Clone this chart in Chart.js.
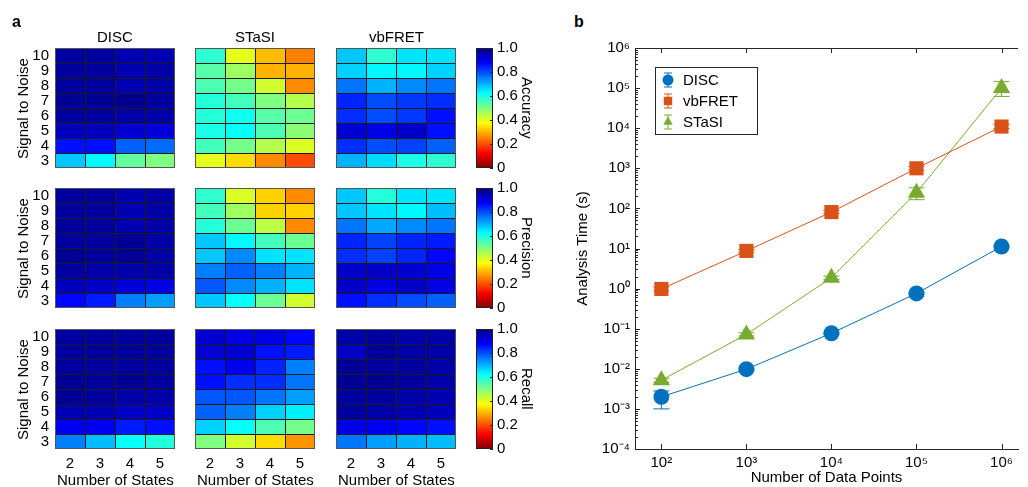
<!DOCTYPE html>
<html>
<head>
<meta charset="utf-8">
<script src="https://cdn.jsdelivr.net/npm/chart.js@4.4.1/dist/chart.umd.min.js"></script>
<style>
body { margin: 0; background: #fff; }
#fig { position: relative; width: 1028px; height: 487px; overflow: hidden; font-family: 'Liberation Sans', Arial, sans-serif; color: #000; }
#fig canvas { position: absolute; }
.lbl { position: absolute; font-size: 15px; line-height: 17px; white-space: nowrap; transform-origin: 0 0; }
.panel { font-weight: bold; font-size: 16px; }
</style>
</head>
<body>
<div id="fig"></div>
<script>
// Подписи осей тепловых карт
const snrLabels = ['10', '9', '8', '7', '6', '5', '4', '3'];
const stateLabels = ['2', '3', '4', '5'];
const methodNames = ['DISC', 'STaSI', 'vbFRET'];
const metricNames = ['Accuracy', 'Precision', 'Recall'];
const colorbarTicks = [0, 0.2, 0.4, 0.6, 0.8, 1.0];

// Строки: SNR 10 (сверху) ... 3 (снизу), столбцы: 2..5 состояний
const discAccuracy = [
    [0.97, 0.97, 0.95, 0.95],
    [0.97, 0.97, 0.95, 0.96],
    [0.97, 0.97, 0.95, 0.96],
    [0.98, 0.98, 0.99, 0.97],
    [0.97, 0.97, 0.96, 0.96],
    [0.94, 0.94, 0.92, 0.91],
    [0.86, 0.86, 0.78, 0.77],
    [0.68, 0.63, 0.53, 0.50]
];
const stasiAccuracy = [
    [0.58, 0.40, 0.31, 0.25],
    [0.54, 0.47, 0.30, 0.30],
    [0.55, 0.51, 0.42, 0.26],
    [0.59, 0.56, 0.50, 0.45],
    [0.59, 0.61, 0.54, 0.52],
    [0.60, 0.62, 0.55, 0.49],
    [0.56, 0.51, 0.45, 0.41],
    [0.40, 0.34, 0.26, 0.20]
];
const vbfretAccuracy = [
    [0.68, 0.58, 0.65, 0.65],
    [0.67, 0.63, 0.63, 0.67],
    [0.76, 0.70, 0.74, 0.76],
    [0.84, 0.80, 0.82, 0.83],
    [0.83, 0.80, 0.82, 0.86],
    [0.92, 0.90, 0.93, 0.86],
    [0.83, 0.80, 0.81, 0.78],
    [0.70, 0.66, 0.60, 0.58]
];
const discPrecision = [
    [0.97, 0.97, 0.95, 0.96],
    [0.97, 0.97, 0.95, 0.96],
    [0.97, 0.97, 0.95, 0.96],
    [0.97, 0.97, 0.98, 0.96],
    [0.98, 0.97, 0.98, 0.96],
    [0.97, 0.96, 0.96, 0.96],
    [0.94, 0.93, 0.91, 0.90],
    [0.87, 0.85, 0.75, 0.72]
];
const stasiPrecision = [
    [0.58, 0.41, 0.33, 0.26],
    [0.56, 0.47, 0.33, 0.33],
    [0.59, 0.52, 0.44, 0.26],
    [0.68, 0.63, 0.56, 0.52],
    [0.68, 0.74, 0.65, 0.65],
    [0.75, 0.78, 0.75, 0.70],
    [0.79, 0.74, 0.70, 0.65],
    [0.68, 0.62, 0.52, 0.42]
];
const vbfretPrecision = [
    [0.68, 0.59, 0.65, 0.65],
    [0.68, 0.65, 0.63, 0.69],
    [0.76, 0.71, 0.74, 0.76],
    [0.84, 0.81, 0.84, 0.85],
    [0.83, 0.81, 0.84, 0.87],
    [0.93, 0.93, 0.92, 0.90],
    [0.93, 0.90, 0.93, 0.90],
    [0.86, 0.83, 0.80, 0.78]
];
const discRecall = [
    [0.97, 0.97, 0.97, 0.97],
    [0.97, 0.97, 0.97, 0.97],
    [0.97, 0.97, 0.97, 0.97],
    [0.98, 0.97, 0.98, 0.97],
    [0.98, 0.97, 0.96, 0.96],
    [0.95, 0.95, 0.93, 0.93],
    [0.89, 0.89, 0.85, 0.86],
    [0.75, 0.69, 0.62, 0.59]
];
const stasiRecall = [
    [0.92, 0.90, 0.90, 0.87],
    [0.92, 0.92, 0.86, 0.85],
    [0.86, 0.89, 0.84, 0.75],
    [0.86, 0.83, 0.83, 0.76],
    [0.79, 0.79, 0.76, 0.72],
    [0.78, 0.75, 0.67, 0.64],
    [0.67, 0.62, 0.55, 0.51],
    [0.50, 0.42, 0.34, 0.27]
];
const vbfretRecall = [
    [0.96, 0.97, 0.96, 0.96],
    [0.93, 0.97, 0.96, 0.96],
    [0.98, 0.97, 0.97, 0.96],
    [0.98, 0.98, 0.97, 0.96],
    [0.97, 0.97, 0.96, 0.95],
    [0.97, 0.96, 0.95, 0.94],
    [0.90, 0.89, 0.87, 0.86],
    [0.76, 0.72, 0.70, 0.69]
];

// Время анализа (панель b)
const dataPoints = [1e2, 1e3, 1e4, 1e5, 1e6];
const discTime = [0.002, 0.0098, 0.077, 0.76, 11.2];
const discLow = [0.001, 0.0092, 0.072, 0.72, 10.4];
const discHigh = [0.0028, 0.0105, 0.082, 0.80, 12.0];
const vbfretTime = [0.98, 8.7, 81, 1000, 11000];
const vbfretLow = [0.88, 8.0, 74, 900, 9800];
const vbfretHigh = [1.10, 9.5, 88, 1120, 12500];
const stasiTime = [0.0052, 0.072, 1.86, 245, 100000];
const stasiLow = [0.0046, 0.066, 1.70, 165, 62000];
const stasiHigh = [0.0058, 0.079, 2.05, 325, 145000];
const timeTicks = [1e-4, 1e-3, 1e-2, 1e-1, 1e0, 1e1, 1e2, 1e3, 1e4, 1e5, 1e6];
const pointTicks = [1e2, 1e3, 1e4, 1e5, 1e6];

document.addEventListener('DOMContentLoaded', function() {
    const fig = document.getElementById('fig');
    const FONT = "'Liberation Sans', Arial, sans-serif";
    Chart.defaults.font.family = FONT;
    Chart.defaults.font.size = 15;
    Chart.defaults.color = '#000';

    const heatTables = {
        Accuracy: [discAccuracy, stasiAccuracy, vbfretAccuracy],
        Precision: [discPrecision, stasiPrecision, vbfretPrecision],
        Recall: [discRecall, stasiRecall, vbfretRecall]
    };

    // Положение панелей на рисунке (сторона кратна 8 и 4 - чёткие линии)
    const colX = [55, 195, 336];
    const rowY = [48, 188, 329];
    const cellSize = 120;
    const barX = 476, barW = 17;

    // Обратная палитра jet: 1 - тёмно-синий, 0 - тёмно-красный
    function jetRev(v) {
        const t = 1 - v;
        const clamp = x => Math.max(0, Math.min(1, x));
        const r = clamp(Math.min(4 * t - 1.5, -4 * t + 4.5));
        const g = clamp(Math.min(4 * t - 0.5, -4 * t + 3.5));
        const b = clamp(Math.min(4 * t + 0.5, -4 * t + 2.5));
        return `rgb(${Math.round(r * 255)}, ${Math.round(g * 255)}, ${Math.round(b * 255)})`;
    }

    // Текстовая подпись с центром в (x, y); rot = -90 / 0 / 90
    function addLabel(text, x, y, rot, cls) {
        const el = document.createElement('div');
        el.className = 'lbl' + (cls ? ' ' + cls : '');
        el.textContent = text;
        fig.appendChild(el);
        const w = el.offsetWidth, h = el.offsetHeight;
        if (rot === -90) {
            el.style.left = Math.round(x - h / 2) + 'px';
            el.style.top = Math.round(y + w / 2) + 'px';
            el.style.transform = 'rotate(-90deg)';
        } else if (rot === 90) {
            el.style.left = Math.round(x + h / 2) + 'px';
            el.style.top = Math.round(y - w / 2) + 'px';
            el.style.transform = 'rotate(90deg)';
        } else {
            el.style.left = Math.round(x - w / 2) + 'px';
            el.style.top = Math.round(y - h / 2) + 'px';
        }
    }

    function addCanvas(left, top, w, h) {
        const cv = document.createElement('canvas');
        cv.width = w;
        cv.height = h;
        cv.style.left = left + 'px';
        cv.style.top = top + 'px';
        cv.style.width = w + 'px';
        cv.style.height = h + 'px';
        fig.appendChild(cv);
        return cv;
    }

    // Без запаса под крайние подписи
    function noPad(s) {
        s.paddingTop = 0;
        s.paddingBottom = 0;
        s.paddingLeft = 0;
        s.paddingRight = 0;
    }

    // Рамка вокруг области графика
    const framePlugin = {
        id: 'frame',
        afterDatasetsDraw(chart, args, opts) {
            const a = chart.chartArea, c = chart.ctx;
            c.save();
            c.strokeStyle = opts.color || '#444';
            c.lineWidth = 1;
            c.strokeRect(a.left + 0.5, a.top + 0.5, a.width - 1, a.height - 1);
            if (opts.ticks) {
                const ys = chart.scales.y;
                c.strokeStyle = '#222';
                c.beginPath();
                ys.ticks.forEach(t => {
                    const py = Math.round(ys.getPixelForValue(t.value)) + 0.5;
                    c.moveTo(a.right - 3, py);
                    c.lineTo(a.right, py);
                });
                c.stroke();
            }
            c.restore();
        }
    };

    // Тепловая карта: столбчатая диаграмма с накоплением, по ячейке на SNR
    function makeHeat(table, col, row) {
        const padTop = 8;
        const cv = addCanvas(colX[col] - 30, rowY[row] - padTop, 30 + cellSize + 2, padTop + cellSize + 24);
        const rows = table.slice().reverse();
        const datasets = rows.map((vals, i) => ({
            label: 'SNR ' + snrLabels[snrLabels.length - 1 - i],
            data: vals.map(() => 1),
            backgroundColor: vals.map(jetRev),
            borderColor: '#1a1a1a',
            borderWidth: { top: 1, left: 1, right: 0, bottom: 0 },
            borderSkipped: false,
            inflateAmount: 0,
            barPercentage: 1,
            categoryPercentage: 1
        }));
        new Chart(cv, {
            type: 'bar',
            data: { labels: stateLabels, datasets: datasets },
            options: {
                responsive: false,
                animation: false,
                events: [],
                layout: { padding: { top: padTop, right: 2, bottom: 0, left: 0 } },
                plugins: { legend: { display: false }, tooltip: { enabled: false }, frame: { color: '#555' } },
                scales: {
                    x: {
                        stacked: true,
                        grid: { display: false, drawTicks: false },
                        border: { display: false },
                        ticks: { display: row === 2, padding: 6, maxRotation: 0 },
                        afterFit: s => { s.height = 24; noPad(s); }
                    },
                    y: {
                        stacked: true,
                        min: 0,
                        max: snrLabels.length,
                        grid: { display: false, drawTicks: false },
                        border: { display: false },
                        afterBuildTicks: s => { s.ticks = snrLabels.map((_, i) => ({ value: i + 0.5 })); },
                        ticks: {
                            display: col === 0,
                            autoSkip: false,
                            padding: 6,
                            callback: v => snrLabels[snrLabels.length - 1 - Math.floor(v)]
                        },
                        afterFit: s => { s.width = 30; noPad(s); }
                    }
                }
            },
            plugins: [framePlugin]
        });
    }

    // Цветовая шкала
    function makeColorbar(row) {
        const pad = 10;
        const cv = addCanvas(barX, rowY[row] - pad, barW + 32, cellSize + 2 * pad);
        new Chart(cv, {
            type: 'bar',
            data: {
                labels: [''],
                datasets: [{
                    data: [[colorbarTicks[0], colorbarTicks[colorbarTicks.length - 1]]],
                    barPercentage: 1,
                    categoryPercentage: 1,
                    backgroundColor: ctx => {
                        const a = ctx.chart.chartArea;
                        if (!a) return null;
                        const g = ctx.chart.ctx.createLinearGradient(0, a.bottom, 0, a.top);
                        [0, 0.125, 0.375, 0.625, 0.875, 1].forEach(v => g.addColorStop(v, jetRev(v)));
                        return g;
                    }
                }]
            },
            options: {
                responsive: false,
                animation: false,
                events: [],
                layout: { padding: { top: pad, right: 0, bottom: pad, left: 0 } },
                plugins: { legend: { display: false }, tooltip: { enabled: false }, frame: { color: '#222', ticks: true } },
                scales: {
                    x: { display: false },
                    y: {
                        position: 'right',
                        min: 0,
                        max: 1,
                        grid: { display: false, drawTicks: false },
                        border: { display: false },
                        afterBuildTicks: s => { s.ticks = colorbarTicks.map(v => ({ value: v })); },
                        ticks: {
                            padding: 4,
                            autoSkip: false,
                            callback: v => v === 0 ? '0' : v.toFixed(1)
                        },
                        afterFit: s => { s.width = 32; noPad(s); }
                    }
                }
            },
            plugins: [framePlugin]
        });
    }

    metricNames.forEach((metric, row) => {
        heatTables[metric].forEach((table, col) => makeHeat(table, col, row));
        makeColorbar(row);
        const cy = rowY[row] + cellSize / 2;
        addLabel('Signal to Noise', 22, cy, -90);
        addLabel(metric, 527, cy, 90);
    });
    methodNames.forEach((name, col) => {
        const cx = colX[col] + cellSize / 2;
        addLabel(name, cx, 36, 0);
        addLabel('Number of States', cx, 479, 0);
    });
    addLabel('a', 16, 21, 0, 'panel');
    addLabel('b', 579, 21, 0, 'panel');

    // Панель b: время анализа в логарифмическом масштабе
    const supDigits = { '-': '⁻', '0': '⁰', '1': '¹', '2': '²', '3': '³', '4': '⁴', '5': '⁵', '6': '⁶' };
    function powLabel(v) {
        const e = Math.round(Math.log10(v));
        return '10' + String(e).split('').map(ch => supDigits[ch]).join('');
    }

    function drawMarker(c, style, x, y, r) {
        c.beginPath();
        if (style === 'circle') {
            c.arc(x, y, r, 0, Math.PI * 2);
        } else if (style === 'rect') {
            const s = r * Math.SQRT1_2;
            c.rect(x - s, y - s, 2 * s, 2 * s);
        } else {
            c.moveTo(x, y - r);
            c.lineTo(x + r * Math.sin(Math.PI * 2 / 3), y + r / 2);
            c.lineTo(x - r * Math.sin(Math.PI * 2 / 3), y + r / 2);
            c.closePath();
        }
        c.fill();
    }

    // Планки погрешностей
    const errorBarPlugin = {
        id: 'errorBars',
        beforeDatasetsDraw(chart) {
            const c = chart.ctx, xs = chart.scales.x, ys = chart.scales.y;
            chart.data.datasets.forEach(ds => {
                c.save();
                c.strokeStyle = ds.borderColor;
                c.lineWidth = 1;
                c.beginPath();
                ds.data.forEach((p, j) => {
                    const px = xs.getPixelForValue(p.x);
                    const lo = ys.getPixelForValue(ds.errLow[j]);
                    const hi = ys.getPixelForValue(ds.errHigh[j]);
                    c.moveTo(px, lo); c.lineTo(px, hi);
                    c.moveTo(px - 8, lo); c.lineTo(px + 8, lo);
                    c.moveTo(px - 8, hi); c.lineTo(px + 8, hi);
                });
                c.stroke();
                c.restore();
            });
        }
    };

    // Засечки внутрь, верхняя граница и легенда в рамке
    const axesPlugin = {
        id: 'matlabAxes',
        afterDraw(chart) {
            const a = chart.chartArea, c = chart.ctx, xs = chart.scales.x, ys = chart.scales.y;
            c.save();
            c.strokeStyle = '#262626';
            c.lineWidth = 1;
            c.beginPath();
            c.moveTo(a.left, a.top + 0.5);
            c.lineTo(a.right, a.top + 0.5);
            xs.ticks.forEach(t => {
                const px = Math.round(xs.getPixelForValue(t.value)) + 0.5;
                c.moveTo(px, a.bottom); c.lineTo(px, a.bottom - 5);
                c.moveTo(px, a.top); c.lineTo(px, a.top + 5);
            });
            for (let e = -4; e <= 5; e++) {
                for (let m = 1; m <= 9; m++) {
                    const py = Math.round(ys.getPixelForValue(m * Math.pow(10, e))) + 0.5;
                    c.moveTo(a.left, py);
                    c.lineTo(a.left + (m === 1 ? 5 : 3), py);
                }
            }
            c.stroke();

            const x0 = Math.round(a.left) + 20, y0 = Math.round(a.top) + 19, w = 102, h = 67;
            c.fillStyle = '#fff';
            c.fillRect(x0, y0, w, h);
            c.strokeRect(x0 + 0.5, y0 + 0.5, w, h);
            chart.data.datasets.forEach((ds, i) => {
                const cx = x0 + 13, cy = y0 + 13 + i * 21;
                c.strokeStyle = ds.borderColor;
                c.beginPath();
                c.moveTo(cx, cy - 7); c.lineTo(cx, cy + 7);
                c.moveTo(cx - 4, cy - 7); c.lineTo(cx + 4, cy - 7);
                c.moveTo(cx - 4, cy + 7); c.lineTo(cx + 4, cy + 7);
                c.stroke();
                c.fillStyle = ds.backgroundColor;
                drawMarker(c, ds.pointStyle, cx, cy, ds.pointStyle === 'rect' ? 6 : 5.5);
                c.fillStyle = '#000';
                c.font = '15px ' + FONT;
                c.textBaseline = 'middle';
                c.fillText(ds.label, x0 + 28, cy + 1);
            });
            c.restore();
        }
    };

    function series(label, values, low, high, color, style, radius) {
        return {
            label: label,
            data: dataPoints.map((x, i) => ({ x: x, y: values[i] })),
            errLow: low,
            errHigh: high,
            borderColor: color,
            backgroundColor: color,
            borderWidth: 1,
            pointStyle: style,
            pointRadius: radius,
            pointBorderWidth: 0,
            fill: false,
            tension: 0
        };
    }

    const timeCanvas = addCanvas(560, 30, 468, 457);
    new Chart(timeCanvas, {
        type: 'line',
        data: {
            datasets: [
                series('DISC', discTime, discLow, discHigh, '#0072BD', 'circle', 8),
                series('vbFRET', vbfretTime, vbfretLow, vbfretHigh, '#D95319', 'rect', 10),
                series('STaSI', stasiTime, stasiLow, stasiHigh, '#77AC30', 'triangle', 10)
            ]
        },
        options: {
            responsive: false,
            animation: false,
            events: [],
            layout: { padding: { top: 18, right: 0, bottom: 0, left: 0 } },
            plugins: { legend: { display: false }, tooltip: { enabled: false } },
            scales: {
                x: {
                    type: 'logarithmic',
                    min: Math.pow(10, 1.69),
                    max: Math.pow(10, 6.194),
                    grid: { display: false, drawTicks: false },
                    border: { display: true, color: '#262626', width: 1 },
                    afterBuildTicks: s => { s.ticks = pointTicks.map(v => ({ value: v })); },
                    ticks: { autoSkip: false, maxRotation: 0, padding: 5, callback: v => powLabel(v) },
                    title: { display: true, text: 'Number of Data Points', padding: { top: 0, bottom: 0 } },
                    afterFit: s => { s.height = 38; noPad(s); }
                },
                y: {
                    type: 'logarithmic',
                    min: timeTicks[0],
                    max: timeTicks[timeTicks.length - 1],
                    grid: { display: false, drawTicks: false },
                    border: { display: true, color: '#262626', width: 1 },
                    afterBuildTicks: s => { s.ticks = timeTicks.map(v => ({ value: v })); },
                    ticks: { autoSkip: false, padding: 5, callback: v => powLabel(v) },
                    title: { display: true, text: 'Analysis Time (s)', padding: { top: 14, bottom: 0 } },
                    afterFit: s => { s.width = 75; noPad(s); }
                }
            }
        },
        plugins: [errorBarPlugin, axesPlugin]
    });
});
</script>
</body>
</html>
